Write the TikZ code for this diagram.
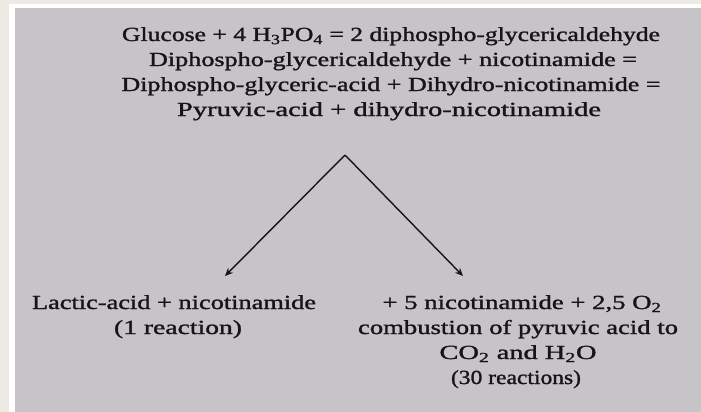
\documentclass[tikz,border=0pt]{standalone}
\usepackage{fontspec}
\usepackage{graphicx}
\setmainfont{Liberation Serif}[FakeBold=1.2]
\usetikzlibrary{arrows.meta}
\definecolor{outerbg}{RGB}{236,234,226}
\definecolor{panel}{RGB}{198,195,201}
\definecolor{ink}{RGB}{22,20,24}
\tikzset{
  txt/.style={anchor=base, text=ink, font=\fontsize{20}{24}\selectfont, inner sep=0pt},
  conn/.style={draw=ink, line width=1.4pt, -{Stealth[length=8pt,width=7pt]}}
}
\newcommand{\sub}[1]{\textsubscript{#1}}
\newcommand{\fitw}[2]{\resizebox{#1pt}{\height}{#2}}
\begin{document}
\begin{tikzpicture}[x=1pt,y=1pt]
\useasboundingbox (0,0) rectangle (701,-412);
\fill[outerbg] (0,0) rectangle (701,-412);
\fill[white] (9,-4) rectangle (701,-412);
\fill[panel] (15,-8) rectangle (701,-412);
% top block
\node[txt] (t1) at (391,-41) {\fitw{538}{Glucose + 4 H\sub{3}PO\sub{4} = 2 diphospho-glycericaldehyde}};
\node[txt] (t2) at (393,-66) {\fitw{488}{Diphospho-glycericaldehyde + nicotinamide =}};
\node[txt] (t3) at (391,-91) {\fitw{539}{Diphospho-glyceric-acid + Dihydro-nicotinamide =}};
\node[txt] (t4) at (389,-116) {\fitw{424}{Pyruvic-acid + dihydro-nicotinamide}};
% arrows
\coordinate (apex) at (345,-155);
\coordinate (lend) at (225,-276);
\coordinate (rend) at (463,-276);
\draw[conn] (apex) -- (lend);
\draw[conn] (apex) -- (rend);
% bottom left
\node[txt] (l1) at (174,-309) {\fitw{284}{Lactic-acid + nicotinamide}};
\node[txt] (l2) at (178,-334) {\fitw{128}{(1 reaction)}};
% bottom right
\node[txt] (r1) at (522,-309) {\fitw{279}{+ 5 nicotinamide + 2,5 O\sub{2}}};
\node[txt] (r2) at (518,-334) {\fitw{320}{combustion of pyruvic acid to}};
\node[txt] (r3) at (518,-359) {\fitw{157}{CO\sub{2} and H\sub{2}O}};
\node[txt] (r4) at (516,-384) {\fitw{130}{(30 reactions)}};
\end{tikzpicture}
\end{document}
